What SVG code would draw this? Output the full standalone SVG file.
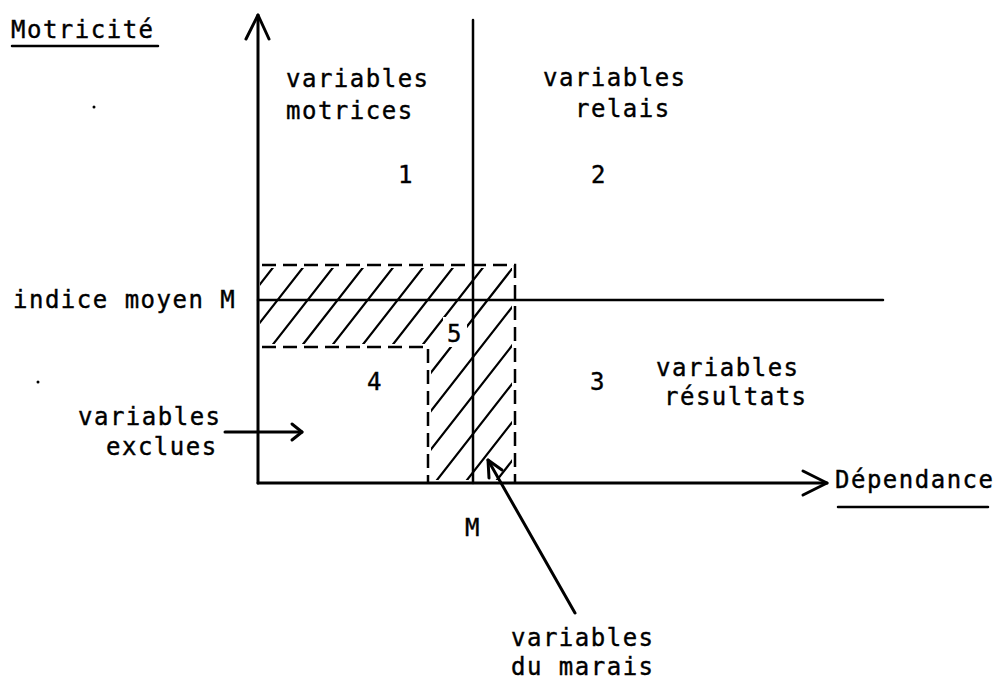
<svg xmlns="http://www.w3.org/2000/svg" width="997" height="681" viewBox="0 0 997 681">
  <style>
    text { font-family: "DejaVu Sans Mono", "Liberation Mono", monospace; font-size: 24px; letter-spacing: 1.5px; fill: #000; stroke: #000; stroke-width: 0.4; }
    .ln { stroke: #000; stroke-width: 2.5; fill: none; stroke-linecap: round; stroke-linejoin: round; }
    .axis { stroke: #000; stroke-width: 3; fill: none; stroke-linecap: round; stroke-linejoin: round; }
    .dash { stroke: #000; stroke-width: 2.5; fill: none; stroke-dasharray: 14 7; }
    .hatch { stroke: #000; stroke-width: 2.2; fill: none; }
  </style>
  <defs>
    <clipPath id="lshape">
      <polygon points="260,268 512,268 512,480 431,480 431,344 260,344"/>
    </clipPath>
  </defs>
  <rect width="997" height="681" fill="#fff"/>

  <g id="hatched-zone">
    <g clip-path="url(#lshape)">
      <path class="hatch" d="M192.8,255 L5.3,495 M222.8,255 L35.3,495 M252.8,255 L65.3,495 M282.8,255 L95.3,495 M312.8,255 L125.3,495 M342.8,255 L155.3,495 M372.8,255 L185.3,495 M402.8,255 L215.3,495 M432.8,255 L245.3,495 M462.8,255 L275.3,495 M492.8,255 L305.3,495 M522.8,255 L335.3,495 M552.8,255 L365.3,495 M582.8,255 L395.3,495 M612.8,255 L425.3,495 M642.8,255 L455.3,495 M672.8,255 L485.3,495 M702.8,255 L515.3,495"/>
    </g>
    <path class="dash" d="M262,265 H515 V483"/>
    <path class="dash" d="M262,347 H428 V483"/>
    <rect x="443" y="317" width="24" height="30" fill="#fff"/>
  </g>

  <g id="connectors">
    <path class="axis" d="M258,483 V15"/>
    <path class="axis" d="M246,39 L258,15 L269,39"/>
    <path class="axis" d="M258,483 H827"/>
    <path class="axis" d="M803,471 L827,483 L803,495"/>
    <path class="ln" d="M473,20 V483"/>
    <path class="ln" d="M258,300 H883"/>
    <path class="axis" d="M225,432 H302"/>
    <path class="axis" d="M292,424 L302,432 L292,440"/>
    <path class="axis" d="M575,613 L488,460"/>
    <path class="axis" d="M502,470 L488,460 L489,478"/>
  </g>

  <g id="axis-y-label">
    <text x="11" y="38">Motricité</text>
    <path class="ln" d="M12,46 H158"/>
  </g>
  <g id="axis-x-label">
    <text x="835" y="488">Dépendance</text>
    <path class="ln" d="M838,507 H988"/>
  </g>
  <g id="mean-index-label">
    <text x="13" y="308">indice moyen M</text>
  </g>
  <g id="mean-M-label">
    <text x="465" y="536">M</text>
  </g>
  <g id="zone-1">
    <text x="286" y="87">variables</text>
    <text x="286" y="119">motrices</text>
    <text x="398" y="183">1</text>
  </g>
  <g id="zone-2">
    <text x="543" y="86">variables</text>
    <text x="575" y="117">relais</text>
    <text x="591" y="183">2</text>
  </g>
  <g id="zone-3">
    <text x="590" y="390">3</text>
    <text x="656" y="376">variables</text>
    <text x="664" y="405">résultats</text>
  </g>
  <g id="zone-4">
    <text x="367" y="390">4</text>
  </g>
  <g id="zone-5">
    <text x="447" y="342">5</text>
  </g>
  <g id="excluded-label">
    <text x="78" y="425">variables</text>
    <text x="106" y="455">exclues</text>
  </g>
  <g id="marais-label">
    <text x="511" y="646">variables</text>
    <text x="511" y="675">du marais</text>
  </g>
  <g id="specks">
    <circle cx="94" cy="107" r="1.5" fill="#000"/>
    <circle cx="38" cy="382" r="1.5" fill="#000"/>
  </g>
</svg>
